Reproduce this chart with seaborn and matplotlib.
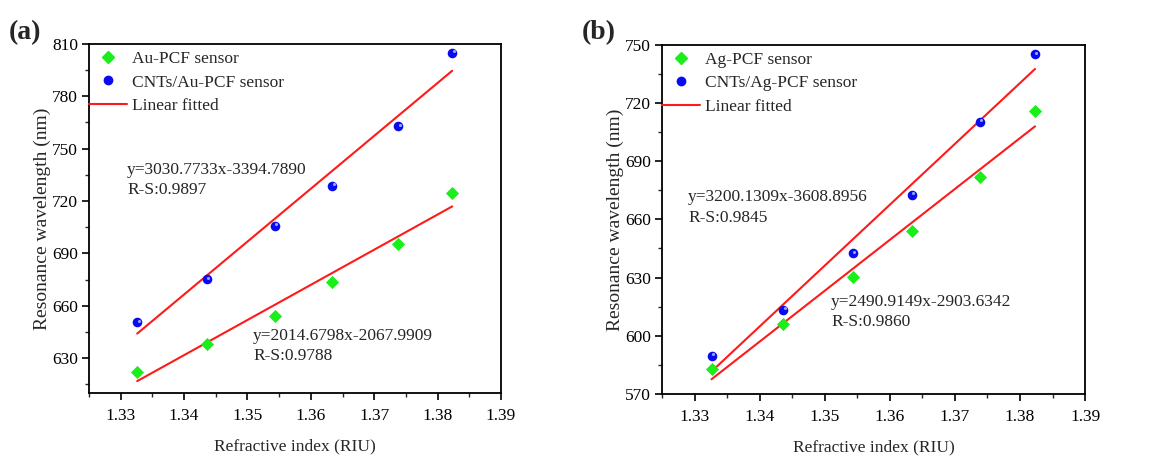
import numpy as np
import pandas as pd
import matplotlib
matplotlib.use("Agg")
import matplotlib.pyplot as plt
import matplotlib.transforms as mtransforms
from matplotlib.lines import Line2D
from matplotlib.ticker import MultipleLocator
import seaborn as sns

# Refractive index of the analyte (RIU)
ri = [1.3326, 1.3436, 1.3543, 1.3634, 1.3738, 1.3823]

# Resonance wavelengths (nm), panel (a)
au_pcf = [622.3, 638.0, 654.1, 673.7, 695.6, 724.8]
cnt_au_pcf = [650.6, 675.3, 705.9, 728.8, 763.0, 805.0]
# Fitted coefficients (slope, intercept), panel (a)
fit_au = [2014.6798, -2067.9909]
fit_cnt_au = [3030.7733, -3394.7890]

# Resonance wavelengths (nm), panel (b)
ag_pcf = [582.7, 605.8, 630.3, 654.0, 681.9, 715.8]
cnt_ag_pcf = [589.7, 613.5, 642.7, 672.7, 710.3, 745.1]

GREEN = "#19f019"
BLUE = "#0a0aee"
SHINE = "#8ea6ff"
RED = "#ff1a1a"

sns.set_theme(style="ticks")
plt.rcParams["font.family"] = ["Liberation Serif", "DejaVu Serif"]

fig = plt.figure(figsize=(11.56, 4.58), dpi=100)
ax_a = fig.add_axes([0.077, 0.142, 0.3564, 0.762])
ax_b = fig.add_axes([0.5727, 0.140, 0.366, 0.762])


def draw_panel(ax, x, y_plain, y_cnt, fits, labels, ylim, notes):
    df = pd.DataFrame({"ri": x, "plain": y_plain, "cnt": y_cnt})
    xs = np.array([x[0], x[-1]])
    for slope, icpt in fits:
        line = pd.DataFrame({"ri": xs, "wl": slope * xs + icpt})
        sns.lineplot(data=line, x="ri", y="wl", ax=ax, color=RED, lw=1.5,
                     zorder=2)
    sns.scatterplot(data=df, x="ri", y="plain", ax=ax, marker="D", s=45,
                    color=GREEN, edgecolor=GREEN, linewidth=0, zorder=3)
    sns.scatterplot(data=df, x="ri", y="cnt", ax=ax, marker="o", s=48,
                    color=BLUE, edgecolor=BLUE, linewidth=0, zorder=3)
    # small specular highlight on the ball markers
    shine = mtransforms.offset_copy(ax.transData, fig=fig, x=1.0, y=1.0,
                                    units="points")
    ax.scatter(df["ri"], df["cnt"], s=5, color=SHINE, linewidths=0,
               transform=shine, zorder=4)
    ax.set_xlim(1.325, 1.39)
    ax.set_ylim(*ylim)
    ax.xaxis.set_major_locator(MultipleLocator(0.01))
    ax.xaxis.set_minor_locator(MultipleLocator(0.005))
    ax.yaxis.set_major_locator(MultipleLocator(30))
    ax.yaxis.set_minor_locator(MultipleLocator(15))
    ax.set_xticklabels([f"{v:.2f}" for v in ax.get_xticks()])
    ax.tick_params(which="major", direction="out", length=5, width=1.2,
                   labelsize=12.5, colors="black", pad=6)
    ax.tick_params(axis="y", which="major", pad=3)
    ax.tick_params(which="minor", direction="out", length=3, width=1.0)
    ax.tick_params(top=False, right=False, which="both")
    for sp in ax.spines.values():
        sp.set_visible(True)
        sp.set_linewidth(1.3)
        sp.set_color("black")
    ax.set_xlabel("Refractive index (RIU)", fontsize=12.5, labelpad=10)
    ax.set_ylabel("Resonance wavelength (nm)", fontsize=14, labelpad=1)

    handles = [
        Line2D([], [], marker="D", color=GREEN, ls="none", markersize=6),
        Line2D([], [], marker="o", color=BLUE, ls="none", markersize=6),
        Line2D([], [], color=RED, lw=1.5),
    ]
    ax.legend(handles, labels, loc="upper left", frameon=False,
              fontsize=12.5, handlelength=2.2, handletextpad=0.3,
              labelspacing=0.42, borderaxespad=0.0,
              bbox_to_anchor=(-0.017, 1.0))
    for (tx, ty, s) in notes:
        ax.text(tx, ty, s, fontsize=12.5, va="top", ha="left",
                linespacing=1.35)


draw_panel(ax_a, ri, au_pcf, cnt_au_pcf, [fit_au, fit_cnt_au],
           ["Au-PCF sensor", "CNTs/Au-PCF sensor", "Linear fitted"],
           (610, 810),
           [(1.3310, 742.5, "y=3030.7733x-3394.7890\nR-S:0.9897"),
            (1.3509, 647.5, "y=2014.6798x-2067.9909\nR-S:0.9788")])

# Least-squares lines through the Ag data sets
fit_ag = np.polyfit(ri, ag_pcf, 1)
fit_cnt_ag = np.polyfit(ri, cnt_ag_pcf, 1)
draw_panel(ax_b, ri, ag_pcf, cnt_ag_pcf, [fit_ag, fit_cnt_ag],
           ["Ag-PCF sensor", "CNTs/Ag-PCF sensor", "Linear fitted"],
           (570, 750),
           [(1.3290, 675.5, "y=3200.1309x-3608.8956\nR-S:0.9845"),
            (1.3510, 621.5, "y=2490.9149x-2903.6342\nR-S:0.9860")])

fig.text(0.008, 0.957, "(a)", fontsize=20, fontweight="bold", va="top")
fig.text(0.503, 0.957, "(b)", fontsize=20, fontweight="bold", va="top")

fig.savefig("out.png", dpi=100, facecolor="white")
